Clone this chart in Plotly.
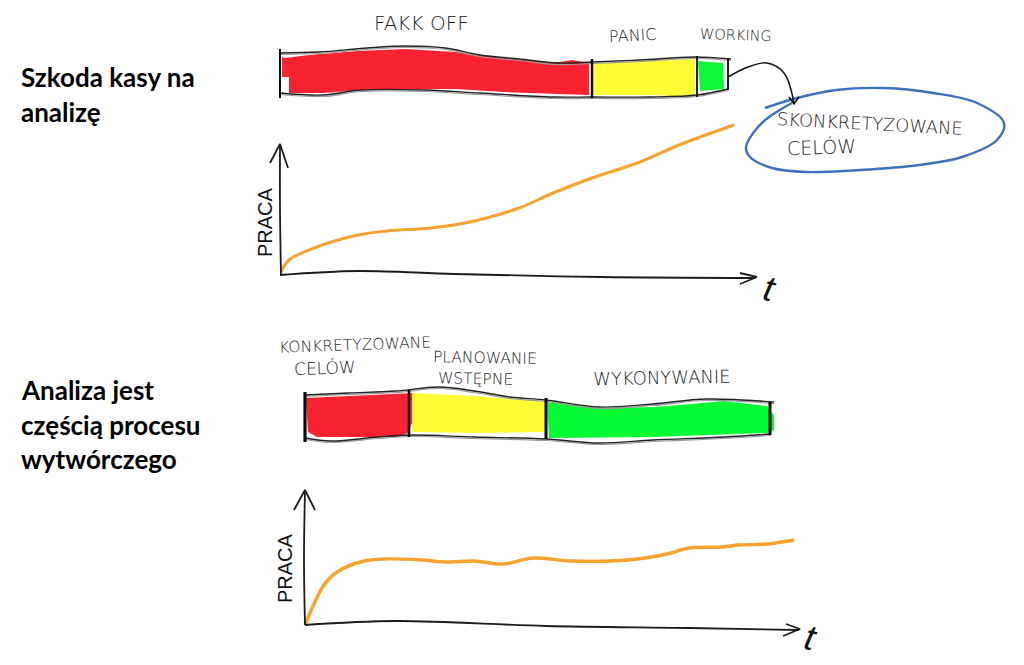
import plotly.graph_objects as go

# Picture-space readings of the sketch (x across, y downward)
red1_x = [282,285,309,358,406,455,504,553,572,589,589,553,504,455,406,362,323,289,289,282]
red1_y = [57,58,55,51,49,52,58,63,60,63,95,94,92,89,89,90,93,93,77,77]
yellow1_x = [593,640,695,695,650,593]
yellow1_y = [63,61,59,97,95,95]
green1_x = [698,723,724,700]
green1_y = [61,63,89,91]
red2_x = [306,349,408,414,414,408,398,317,308]
red2_y = [398,396,393,393,418,433,437,437,432]
yellow2_x = [412,474,546,544,474,412]
yellow2_y = [393,396,402,432,433,432]
green2_x = [547,599,656,724,767,774,774,767,653,549]
green2_y = [402,408,407,401,406,415,430,433,437,438]

bar1_top_x = [280,319,367,406,445,480,519,558,592,640,694,731]
bar1_top_y = [53,52,48,46,48,55,59,63,62,60,57,59]
bar1_bot_x = [280,323,362,426,480,553,592,650,697,728]
bar1_bot_y = [93,95,90,90,93,97,97,97,95,89]
bar2_top_x = [305,349,396,439,474,510,546,599,653,706,774]
bar2_top_y = [395,393,391,387,391,397,400,407,404,399,402]
bar2_bot_x = [305,331,378,410,474,546,599,653,724,771]
bar2_bot_y = [438,441,437,435,437,439,443,440,437,434]

dividers1_x = [280,592,697,728]
dividers1_top = [49,59,56,59]
dividers1_bot = [98,98,97,90]
dividers1_w = [2,2.4,1.8,1.8]
dividers2_x = [305,409,546,770]
dividers2_top = [392,390,398,402]
dividers2_bot = [442,437,439,435]
dividers2_w = [3.2,2.6,3,3]

work1_x = [281,289,314,358,387,431,465,519,553,592,640,679,734]
work1_y = [272,260,248,235,231,228,223,208,193,178,162,145,125]
work2_x = [305,324,337,364,385,421,446,474,503,533,571,628,667,689,721,739,767,794]
work2_y = [625,585,572,561,559,560,562,561,564,558,561,560,554,548,547,545,544,540]

yaxis1_x = [280,280,281]
yaxis1_y = [144,210,275]
yhead1_x = [270,280,288]
yhead1_y = [163,144,168]
xaxis1_x = [280,358,455,601,755]
xaxis1_y = [275,271,274,277,278]
xhead1_x = [740,757,740]
xhead1_y = [273,277,284]
yaxis2_x = [305,304,305]
yaxis2_y = [490,560,625]
yhead2_x = [294,305,315]
yhead2_y = [510,490,510]
xaxis2_x = [305,396,546,689,799]
xaxis2_y = [625,621,626,628,630]
xhead2_x = [786,800,783]
xhead2_y = [624,629,636]

cloud_x = [765,797,836,884,933,977,1004,997,962,919,860,806,772,750,746,758,772,792]
cloud_y = [108,98,90,88,93,103,123,140,157,165,170,172,168,157,147,127,115,103]
hook_x = [728,748,767,784,794]
hook_y = [77,67,63,73,103]
hookhead_x = [789,794,799]
hookhead_y = [97,104,97]

titles = [("Szkoda kasy na",19,77),("analizę",19,112),("Analiza jest",19,390),
          ("częścią procesu",19,425),("wytwórczego",19,459)]
notes = [("FAKK OFF",421,23,0,20),("PANIC",632,35,-3,16),("WORKING",736,35,2,14.5),
         ("SKONKRETYZOWANE",870,123,3,17.8),("CELÓW",821,146,-2,19),
         ("KONKRETYZOWANE",355,345,-2,15.5),("CELÓW",325,367,-2,17),
         ("PLANOWANIE",485,358,1,15.5),("WSTĘPNE",475,379,1,15.5),("WYKONYWANIE",662,377,-1,18)]
axis_notes = [("PRACA",265,222,-90,20),("PRACA",285,568,-90,20),("t",770,288,12,36),("t",811,637,12,36)]

fig = go.Figure()
def fill(x, y, c):
    fig.add_trace(go.Scatter(x=x+x[:1], y=y+y[:1], mode="lines", fill="toself", fillcolor=c,
                             line=dict(width=0, color=c), hoverinfo="skip"))
def line(x, y, c="#111111", w=1.5, smooth=True):
    fig.add_trace(go.Scatter(x=x, y=y, mode="lines", hoverinfo="skip",
                             line=dict(color=c, width=w, shape="spline" if smooth else "linear")))

for x,y,c in [(red1_x,red1_y,"#f92231"),(yellow1_x,yellow1_y,"#fdfd33"),(green1_x,green1_y,"#0dfa37"),
              (red2_x,red2_y,"#f92231"),(yellow2_x,yellow2_y,"#fdfd33"),(green2_x,green2_y,"#05fb33")]:
    fill(x,y,c)
for x,y in [(bar1_top_x,bar1_top_y),(bar1_bot_x,bar1_bot_y),(bar2_top_x,bar2_top_y),(bar2_bot_x,bar2_bot_y)]:
    line(x,[v+1.5 for v in y],"#9a9a9a",1.2)
    line(x,y,"#222222",1.4)
for xs,ts,bs,ws in [(dividers1_x,dividers1_top,dividers1_bot,dividers1_w),
                    (dividers2_x,dividers2_top,dividers2_bot,dividers2_w)]:
    for x,t,b,w in zip(xs,ts,bs,ws):
        line([x,x],[t,b],"#0a0a0a",w,False)
line(work1_x,work1_y,"#f9a12e",3)
line(work2_x,work2_y,"#f9a12e",3.4)
for x,y in [(yaxis1_x,yaxis1_y),(xaxis1_x,xaxis1_y),(yaxis2_x,yaxis2_y),(xaxis2_x,xaxis2_y)]:
    line(x,y,"#1c1c1c",1.8)
for x,y in [(yhead1_x,yhead1_y),(xhead1_x,xhead1_y),(yhead2_x,yhead2_y),(xhead2_x,xhead2_y)]:
    line(x,y,"#1c1c1c",1.8,False)
line(cloud_x,cloud_y,"#3f6fbf",2.4)
line(hook_x,hook_y,"#111111",1.5)
line(hookhead_x,hookhead_y,"#111111",1.5,False)

ann = []
for t,x,y in titles:
    ann.append(dict(x=x,y=y,text=t,xanchor="left",yanchor="middle",showarrow=False,
                    font=dict(family="Lato",size=26,color="#000000",weight=700)))
for t,x,y,a,s in notes:
    ann.append(dict(x=x,y=y,text=t,textangle=a,xanchor="center",yanchor="middle",showarrow=False,
                    font=dict(family="DejaVu Sans",size=s,color="#222222",weight=200)))
for t,x,y,a,s in axis_notes:
    ann.append(dict(x=x,y=y,text=t,textangle=a,xanchor="center",yanchor="middle",showarrow=False,
                    font=dict(family="Liberation Sans",size=s,color="#111111",style="italic" if t=="t" else "normal")))

fig.update_layout(width=1024,height=665,margin=dict(l=0,r=0,t=0,b=0),showlegend=False,
                  paper_bgcolor="white",plot_bgcolor="white",annotations=ann,
                  xaxis=dict(range=[0,1024],visible=False,fixedrange=True),
                  yaxis=dict(range=[665,0],visible=False,fixedrange=True))
fig.write_html("out.html",config=dict(displayModeBar=False),
               post_script="document.body.style.margin='0';")
